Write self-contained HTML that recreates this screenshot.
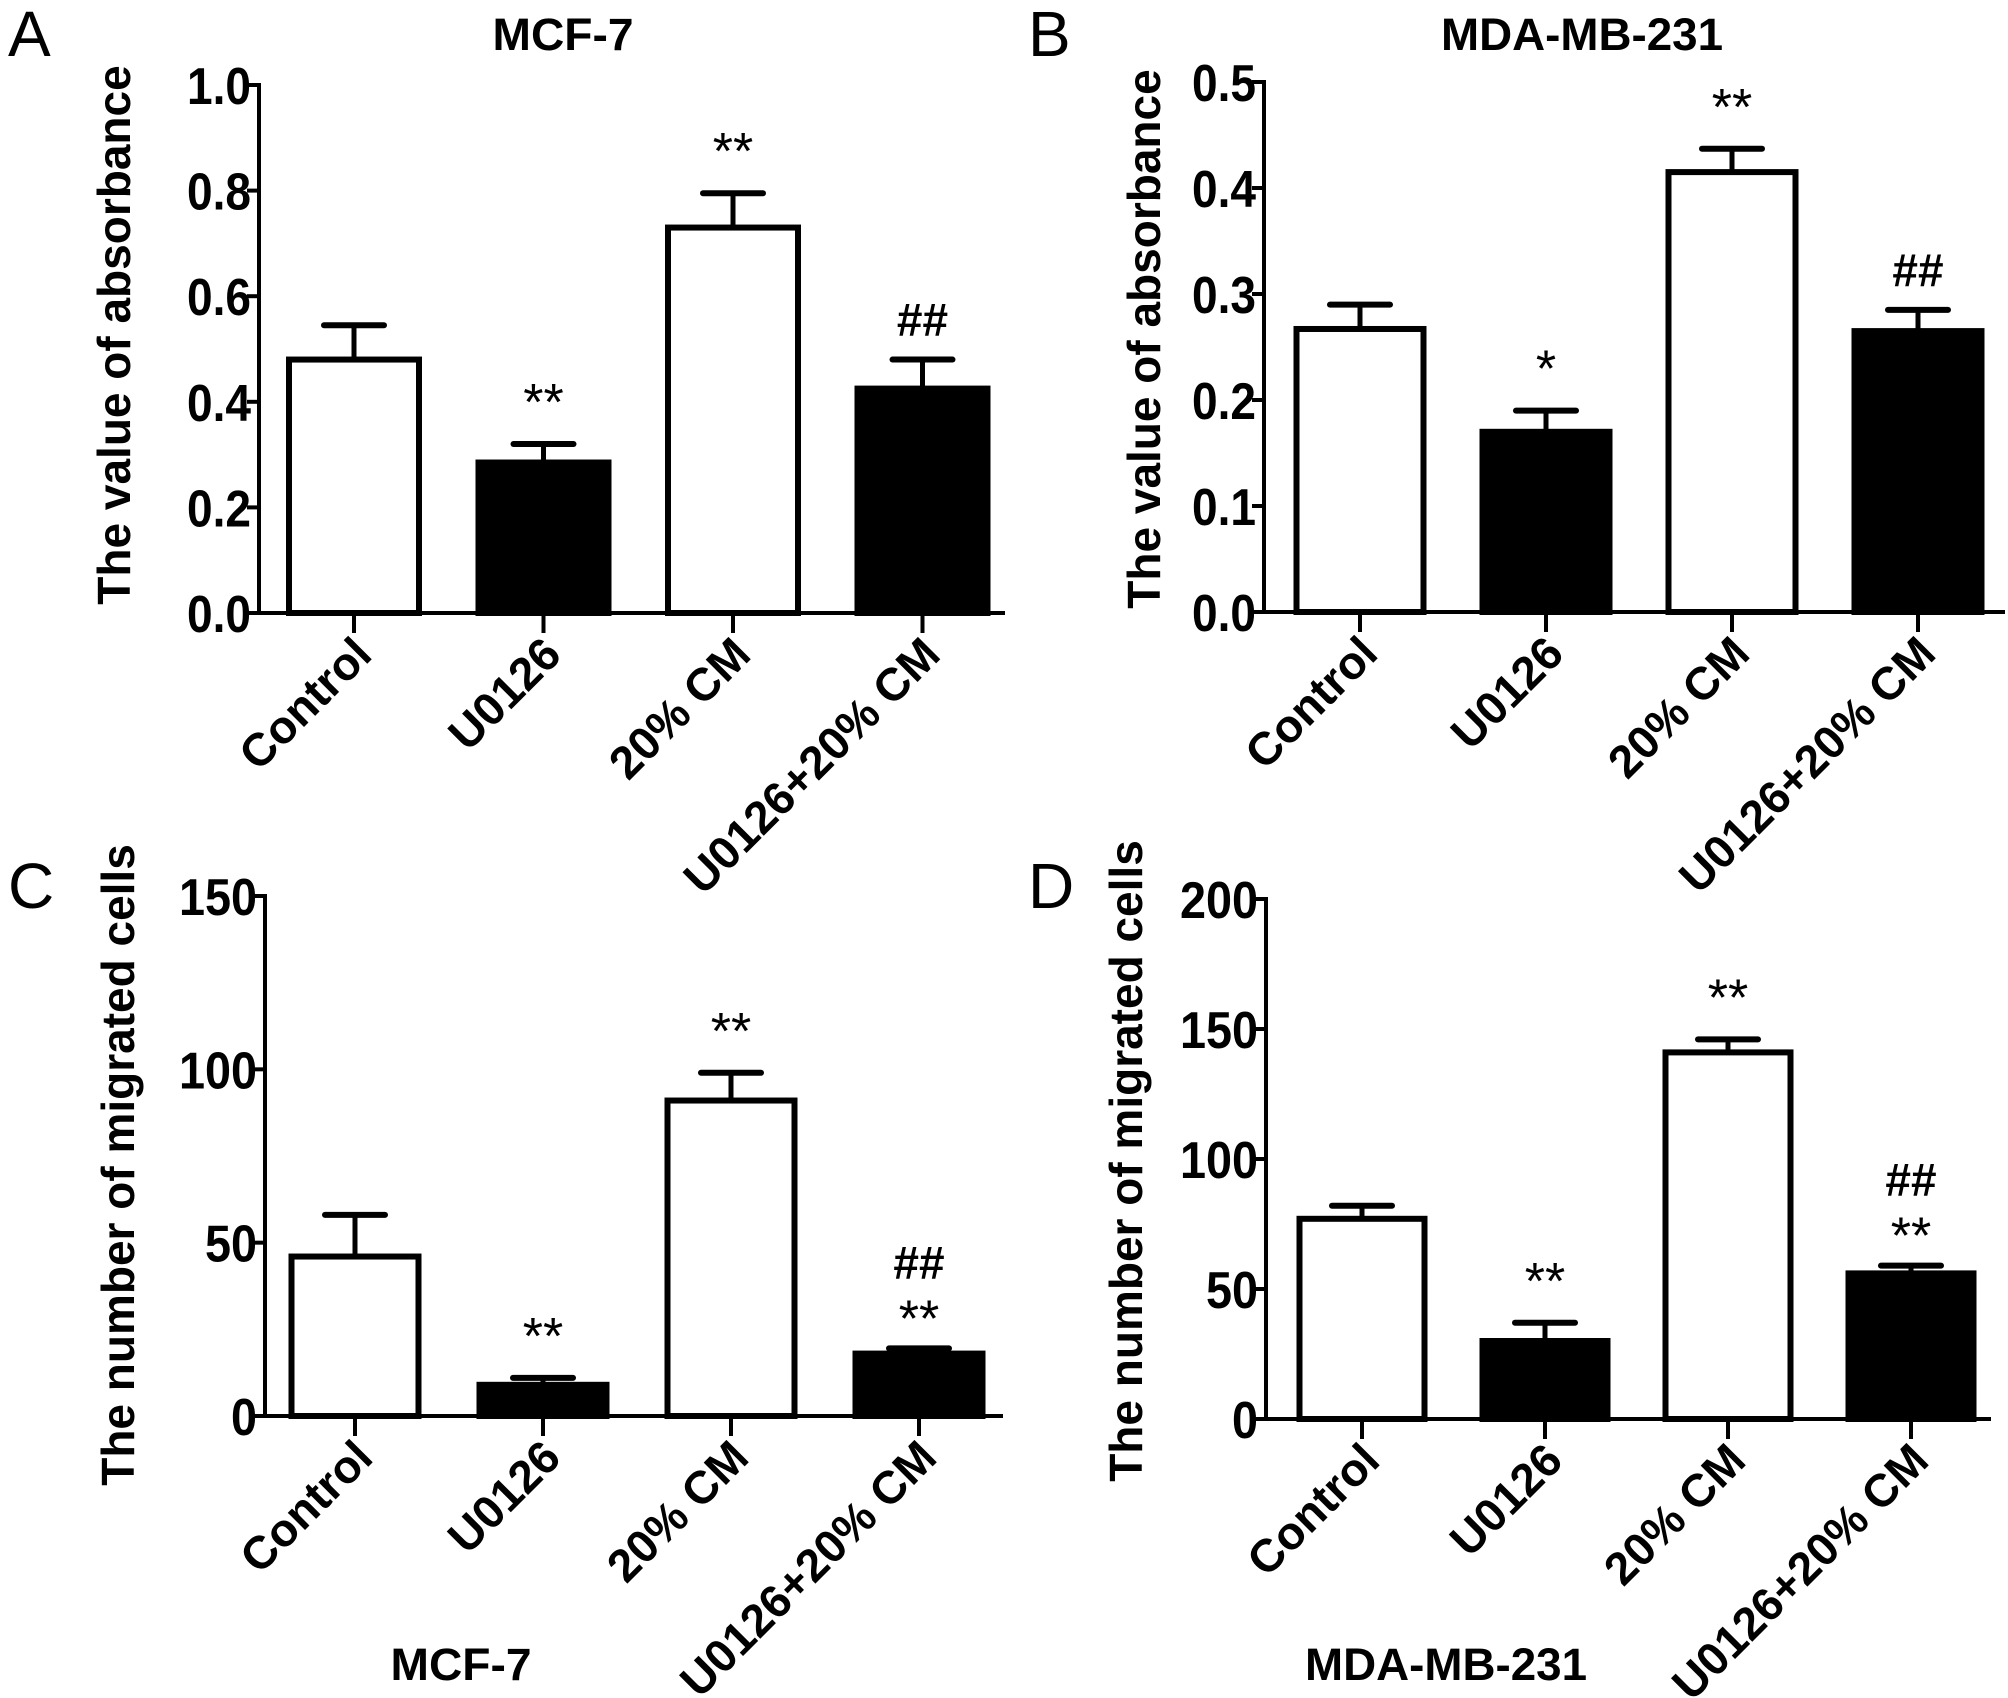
<!DOCTYPE html>
<html><head><meta charset="utf-8"><style>
html,body{margin:0;padding:0;background:#fff}
svg{display:block}
text{font-family:"Liberation Sans",Arial,sans-serif;fill:#000}
</style></head><body>
<svg id="fig" width="2008" height="1698" viewBox="0 0 2008 1698" xmlns="http://www.w3.org/2000/svg"></svg>
<script>
const categories = ["Control","U0126","20% CM","U0126+20% CM"];
const fills = ["#fff","#000","#fff","#000"];
// Panel A
const aValues = [0.48,0.285,0.73,0.425];
const aErrors = [0.065,0.035,0.065,0.055];
const aTicks = ["0.0","0.2","0.4","0.6","0.8","1.0"];
const aSig = [["",""],["**",""],["**",""],["##",""]];
// Panel B
const bValues = [0.267,0.17,0.415,0.265];
const bErrors = [0.023,0.02,0.022,0.02];
const bTicks = ["0.0","0.1","0.2","0.3","0.4","0.5"];
const bSig = [["",""],["*",""],["**",""],["##",""]];
// Panel C
const cValues = [46,9,91,18];
const cErrors = [12,2,8,1.5];
const cTicks = ["0","50","100","150"];
const cSig = [["",""],["**",""],["**",""],["##","**"]];
// Panel D
const dValues = [77,30,141,56];
const dErrors = [5,7,5,3];
const dTicks = ["0","50","100","150","200"];
const dSig = [["",""],["**",""],["**",""],["##","**"]];

const NS="http://www.w3.org/2000/svg";
const svg=document.getElementById('fig');
function mk(tag,attrs,parent){const e=document.createElementNS(NS,tag);for(const k in attrs)e.setAttribute(k,attrs[k]);(parent||svg).appendChild(e);return e;}

function panel(cfg){
  const g=mk('g',{});
  
  
  const max=parseFloat(cfg.ticks[cfg.ticks.length-1]);
  const y=v=>cfg.y0-(v/max)*(cfg.y0-cfg.yTop);
  const x=i=>cfg.x0+cfg.first+i*cfg.step;
  const ya=mk('line',{x1:cfg.x0,y1:cfg.yTop-2,x2:cfg.x0,y2:cfg.y0+2,stroke:'#000','stroke-width':4},g);
  
  
  const xa=mk('line',{x1:cfg.x0-2,y1:cfg.y0,x2:cfg.xEnd,y2:cfg.y0,stroke:'#000','stroke-width':4},g);
  
  
  cfg.ticks.forEach(t=>{
    const v=parseFloat(t),yy=y(v);
    mk('line',{x1:cfg.x0-12,y1:yy,x2:cfg.x0,y2:yy,stroke:'#000','stroke-width':4},g);
    const len=t.replace('.','').length*26+(t.includes('.')?12:0);
    const tx=mk('text',{x:cfg.x0-8,y:yy+19,'text-anchor':'end','font-size':52,'font-weight':'bold',textLength:len,lengthAdjust:'spacingAndGlyphs'},g);
    tx.textContent=t;
    
    
  });
  cfg.values.forEach((v,i)=>{
    const cx=x(i),top=y(v),et=y(v+cfg.errors[i]);
    const el=mk('line',{x1:cx,y1:et,x2:cx,y2:top,stroke:'#000','stroke-width':5},g);
    
    
    const cap=mk('line',{x1:cx-30,y1:et,x2:cx+30,y2:et,stroke:'#000','stroke-width':6,'stroke-linecap':'round'},g);
    
    
    const r=mk('rect',{x:cx-cfg.bw/2,y:top,width:cfg.bw,height:cfg.y0-top,fill:fills[i],stroke:'#000','stroke-width':6},g);
    
    
    mk('line',{x1:cx,y1:cfg.y0,x2:cx,y2:cfg.y0+20,stroke:'#000','stroke-width':4},g);
    const s=cfg.sig[i];
    if(s[0]){const t=mk('text',{x:cx,y:et-(s[1]?70:24),'text-anchor':'middle','font-size':s[0][0]=='#'?46:52,'font-weight':s[0][0]=='#'?'bold':'normal'},g);t.textContent=s[0];
      
      }
    if(s[1]){const t=mk('text',{x:cx,y:et-12,'text-anchor':'middle','font-size':52},g);t.textContent=s[1];
      
      }
    const lx=cx+20,ly=cfg.y0+44;
    const lab=mk('text',{x:lx,y:ly,'text-anchor':'end','font-size':46,'font-weight':'bold',transform:`rotate(-45 ${lx} ${ly})`},g);
    lab.textContent=categories[i];
    
    
  });
  const yt=mk('text',{x:cfg.ytx,y:cfg.yty,'text-anchor':'middle','font-size':46,'font-weight':'bold',transform:`rotate(-90 ${cfg.ytx} ${cfg.yty})`},g);
  yt.textContent=cfg.ytitle;
  
  
  const tt=mk('text',{x:cfg.tx,y:cfg.ty,'text-anchor':'middle','font-size':45,'font-weight':'bold',textLength:cfg.tlen,lengthAdjust:'spacingAndGlyphs'},g);
  tt.textContent=cfg.title;
  
  
  const L=mk('text',{x:cfg.lx,y:cfg.ly,'font-size':64},g);
  L.textContent=cfg.letter;
  
  
}
panel({id:'a',x0:259,y0:613,yTop:85,xEnd:1005,first:95,step:189.5,bw:130,values:aValues,errors:aErrors,ticks:aTicks,sig:aSig,
  ytx:130,yty:335,ytitle:'The value of absorbance',title:'MCF-7',tx:563,ty:50,tlen:141,letter:'A',lx:8,ly:56});
panel({id:'b',x0:1264,y0:612,yTop:82,xEnd:2005,first:96,step:186,bw:127,values:bValues,errors:bErrors,ticks:bTicks,sig:bSig,
  ytx:1160,yty:339,ytitle:'The value of absorbance',title:'MDA-MB-231',tx:1582,ty:50,tlen:282,letter:'B',lx:1028,ly:56});
panel({id:'c',x0:265,y0:1416,yTop:896,xEnd:1003,first:90,step:188,bw:127,values:cValues,errors:cErrors,ticks:cTicks,sig:cSig,
  ytx:134,yty:1165,ytitle:'The number of migrated cells',title:'MCF-7',tx:461,ty:1680,tlen:141,letter:'C',lx:8,ly:908});
panel({id:'d',x0:1266,y0:1419,yTop:899,xEnd:1991,first:96,step:183,bw:125,values:dValues,errors:dErrors,ticks:dTicks,sig:dSig,
  ytx:1142,yty:1161,ytitle:'The number of migrated cells',title:'MDA-MB-231',tx:1446,ty:1680,tlen:282,letter:'D',lx:1028,ly:908});
</script>
</body></html>
